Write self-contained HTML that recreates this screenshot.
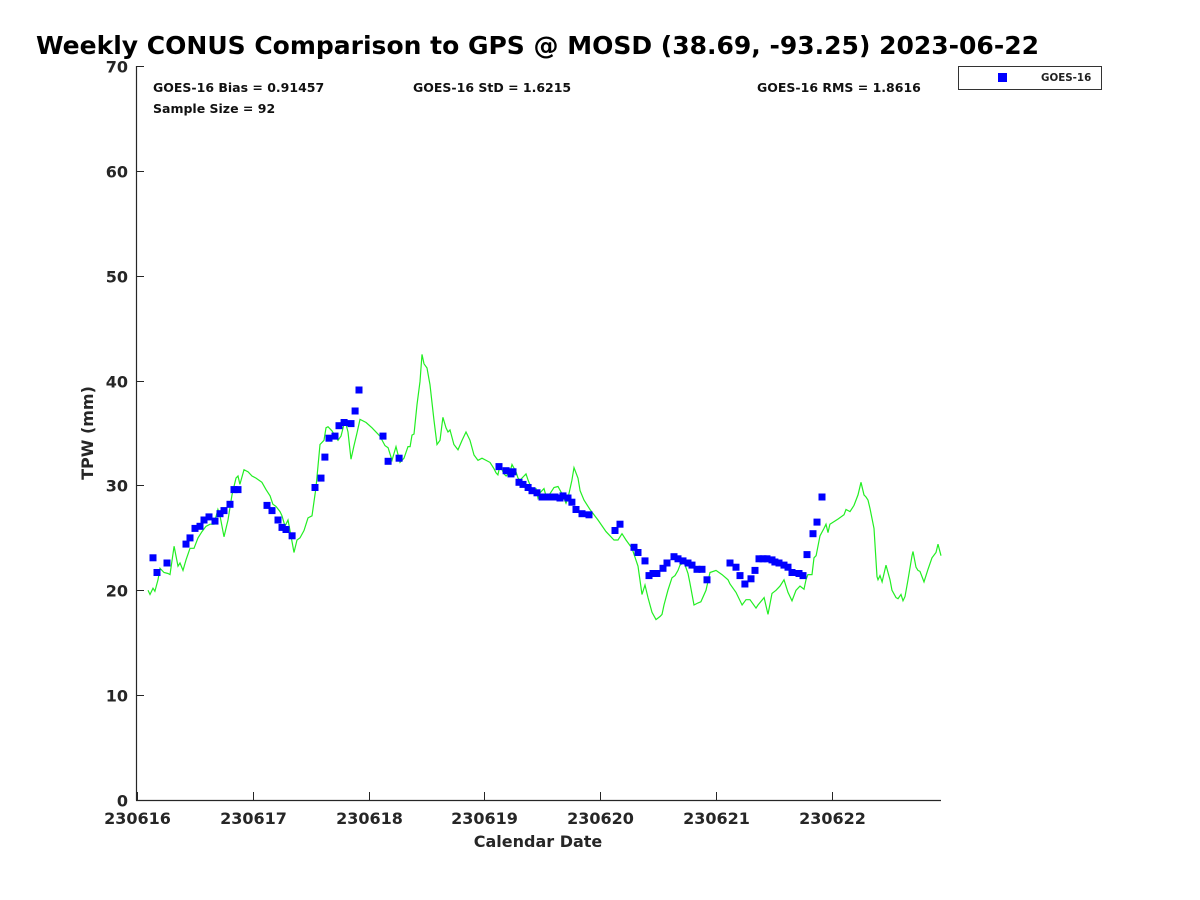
<!DOCTYPE html>
<html><head><meta charset="utf-8"><style>
html,body{margin:0;padding:0;background:#fff;}
svg{display:block;font-family:"DejaVu Sans","Liberation Sans",sans-serif;}
</style></head><body>
<svg id="chart" width="1200" height="900">
<text x="36" y="54" font-size="25" font-weight="bold" fill="#000">Weekly CONUS Comparison to GPS @ MOSD (38.69, -93.25) 2023-06-22</text>
<g id="axes"></g>
<g id="series"></g>
<text x="153" y="92" font-size="12.5" font-weight="bold" fill="#111">GOES-16 Bias = 0.91457</text>
<text x="153" y="113" font-size="12.5" font-weight="bold" fill="#111">Sample Size = 92</text>
<text x="413" y="92" font-size="12.5" font-weight="bold" fill="#111">GOES-16 StD = 1.6215</text>
<text x="757" y="92" font-size="12.5" font-weight="bold" fill="#111">GOES-16 RMS = 1.8616</text>
<g>
<rect x="958.5" y="66.5" width="143" height="23" fill="#fff" stroke="#333" stroke-width="1"/>
<rect x="998" y="73" width="9" height="9" fill="#0000ff"/>
<text x="1041" y="81" font-size="10.3" font-weight="bold" fill="#222">GOES-16</text>
</g>
<text x="538" y="847" font-size="16" font-weight="bold" fill="#262626" text-anchor="middle">Calendar Date</text>
<text transform="translate(93,433) rotate(-90)" font-size="16" font-weight="bold" fill="#262626" text-anchor="middle">TPW (mm)</text>
</svg>
<script>
const xTickLabels = ["230616","230617","230618","230619","230620","230621","230622"];
const yTickValues = [0,10,20,30,40,50,60,70];
const gpsDays = [0.095,0.112,0.138,0.155,0.181,0.199,0.233,0.268,0.285,0.320,0.354,0.371,0.397,0.423,0.458,0.492,0.527,0.561,0.596,0.630,0.665,0.699,0.717,0.751,0.786,0.820,0.855,0.872,0.889,0.924,0.959,0.993,1.028,1.079,1.114,1.149,1.174,1.200,1.235,1.252,1.278,1.304,1.321,1.356,1.382,1.408,1.442,1.477,1.511,1.546,1.580,1.615,1.632,1.649,1.684,1.718,1.736,1.762,1.796,1.822,1.848,1.874,1.900,1.926,1.978,2.029,2.098,2.142,2.168,2.202,2.237,2.271,2.306,2.340,2.358,2.375,2.392,2.418,2.444,2.461,2.478,2.504,2.530,2.565,2.591,2.617,2.642,2.668,2.686,2.703,2.737,2.772,2.807,2.841,2.876,2.910,2.945,2.979,3.048,3.083,3.100,3.117,3.135,3.169,3.187,3.221,3.238,3.273,3.290,3.307,3.342,3.359,3.377,3.411,3.446,3.463,3.480,3.515,3.532,3.566,3.601,3.636,3.670,3.705,3.722,3.756,3.774,3.808,3.826,3.860,3.912,3.981,4.050,4.119,4.154,4.188,4.223,4.275,4.326,4.361,4.387,4.413,4.447,4.482,4.516,4.534,4.551,4.585,4.620,4.646,4.672,4.689,4.724,4.758,4.775,4.810,4.845,4.870,4.914,4.948,5.000,5.052,5.104,5.121,5.173,5.225,5.259,5.294,5.345,5.363,5.415,5.449,5.484,5.518,5.553,5.587,5.622,5.656,5.691,5.725,5.760,5.777,5.794,5.829,5.846,5.864,5.898,5.933,5.950,5.967,5.984,6.054,6.105,6.123,6.157,6.192,6.226,6.252,6.278,6.295,6.313,6.330,6.364,6.390,6.399,6.416,6.434,6.468,6.503,6.520,6.554,6.572,6.598,6.615,6.632,6.658,6.693,6.701,6.727,6.744,6.762,6.796,6.831,6.865,6.900,6.917,6.943];
const gpsTpw = [20.0,19.6,20.2,19.9,21.0,22.1,21.7,21.6,21.5,24.2,22.3,22.6,21.9,22.9,24.0,24.0,25.0,25.6,26.1,26.3,26.3,27.7,27.1,25.1,26.7,29.1,30.7,30.9,30.1,31.5,31.3,30.9,30.7,30.3,29.6,29.0,28.2,28.0,27.5,27.1,26.1,26.7,25.7,23.6,24.8,25.0,25.7,26.9,27.1,29.8,33.9,34.3,35.5,35.6,35.2,34.6,34.3,34.7,36.2,35.1,32.5,33.8,35.0,36.3,36.0,35.5,34.7,33.8,33.6,32.4,33.7,32.2,32.6,33.7,33.7,34.8,34.9,37.7,39.9,42.5,41.6,41.2,39.6,36.2,33.9,34.3,36.5,35.5,35.1,35.3,33.9,33.4,34.3,35.1,34.3,32.9,32.4,32.6,32.2,31.6,31.2,31.0,31.9,31.1,30.9,31.3,32.0,31.3,30.7,30.5,30.9,31.1,30.5,29.6,29.7,28.8,29.3,29.7,29.0,29.2,29.8,29.9,29.2,28.3,28.8,30.5,31.7,30.7,29.5,28.6,27.7,26.7,25.6,24.8,24.8,25.4,24.8,24.0,22.3,19.6,20.5,19.3,17.9,17.2,17.5,17.7,18.6,20.0,21.2,21.4,21.9,22.4,22.7,21.6,20.7,18.6,18.8,18.9,20.0,21.7,21.9,21.5,21.0,20.6,19.8,18.6,19.1,19.1,18.3,18.6,19.3,17.7,19.7,20.0,20.4,21.0,19.8,19.0,20.0,20.4,20.1,21.0,21.5,21.5,23.1,23.3,25.2,25.9,26.3,25.5,26.3,26.8,27.2,27.7,27.5,28.1,29.1,30.3,29.1,28.9,28.6,27.8,25.9,21.3,21.0,21.4,20.8,22.4,21.0,20.0,19.3,19.2,19.6,19.0,19.4,21.0,23.3,23.7,22.2,21.9,21.8,20.8,22.0,23.1,23.6,24.4,23.3];
const goesDays = [0.138,0.173,0.259,0.423,0.458,0.501,0.544,0.579,0.622,0.674,0.717,0.751,0.803,0.838,0.872,1.123,1.166,1.218,1.252,1.287,1.339,1.537,1.589,1.623,1.658,1.710,1.744,1.788,1.848,1.883,1.917,2.124,2.168,2.263,3.126,3.187,3.230,3.247,3.299,3.333,3.377,3.411,3.454,3.497,3.532,3.575,3.610,3.653,3.679,3.722,3.756,3.791,3.843,3.903,4.128,4.171,4.292,4.326,4.387,4.421,4.456,4.490,4.542,4.577,4.637,4.672,4.715,4.758,4.793,4.836,4.879,4.922,5.121,5.173,5.207,5.250,5.302,5.337,5.371,5.406,5.440,5.484,5.509,5.544,5.587,5.622,5.656,5.717,5.751,5.786,5.838,5.872,5.915];
const goesTpw = [23.1,21.7,22.6,24.4,25.0,25.9,26.1,26.7,27.0,26.6,27.3,27.6,28.2,29.6,29.6,28.1,27.6,26.7,26.0,25.8,25.2,29.8,30.7,32.7,34.5,34.7,35.7,36.0,35.9,37.1,39.1,34.7,32.3,32.6,31.8,31.4,31.1,31.3,30.3,30.1,29.8,29.5,29.3,28.9,28.9,28.9,28.9,28.8,29.0,28.8,28.4,27.7,27.3,27.2,25.7,26.3,24.1,23.6,22.8,21.4,21.6,21.6,22.1,22.6,23.2,23.0,22.8,22.6,22.4,22.0,22.0,21.0,22.6,22.2,21.4,20.6,21.1,21.9,23.0,23.0,23.0,22.9,22.7,22.6,22.4,22.2,21.7,21.6,21.4,23.4,25.4,26.5,28.9];

const NS = "http://www.w3.org/2000/svg";
const X0 = 137, DAYW = 115.8, Y0 = 800, MMH = (800 - 66) / 70;
function xScale(d){ return X0 + d * DAYW; }
function yScale(v){ return Y0 - v * MMH; }
function mk(tag, attrs, parent){
  const el = document.createElementNS(NS, tag);
  for (const k in attrs) el.setAttribute(k, attrs[k]);
  parent.appendChild(el);
  return el;
}
const axes = document.getElementById("axes");
const series = document.getElementById("series");

const yAxis = mk("line", {x1:136.5, y1:66, x2:136.5, y2:800.5, stroke:"#262626", "stroke-width":1.2}, axes);


const xAxis = mk("line", {x1:136, y1:800.5, x2:941, y2:800.5, stroke:"#262626", "stroke-width":1.2}, axes);



yTickValues.forEach(v => {
  const y = Math.round(yScale(v)) + 0.5;
  const t = mk("line", {x1:136.5, y1:y, x2:144, y2:y, stroke:"#262626", "stroke-width":1}, axes);
  
  
  const lb = mk("text", {x:128, y:y + 6, "font-size":16, "font-weight":"bold", fill:"#262626", "text-anchor":"end"}, axes);
  lb.textContent = v;
  
  
});
xTickLabels.forEach((s, i) => {
  const x = Math.round(xScale(i)) + 0.5;
  const t = mk("line", {x1:x, y1:800.5, x2:x, y2:792, stroke:"#262626", "stroke-width":1}, axes);
  
  
  const lb = mk("text", {x:x, y:824, "font-size":16, "font-weight":"bold", fill:"#262626", "text-anchor":"middle"}, axes);
  lb.textContent = s;
  
  
});

const pts = gpsDays.map((d, i) => xScale(d).toFixed(1) + "," + yScale(gpsTpw[i]).toFixed(1)).join(" ");
const line = mk("polyline", {points:pts, fill:"none", stroke:"#22ee22", "stroke-width":1.2}, series);



goesDays.forEach((d, i) => {
  const r = mk("rect", {x:(xScale(d) - 3.5).toFixed(1), y:(yScale(goesTpw[i]) - 3.5).toFixed(1), width:7, height:7, fill:"#0000ff"}, series);
  
  
});
</script>
</body></html>
